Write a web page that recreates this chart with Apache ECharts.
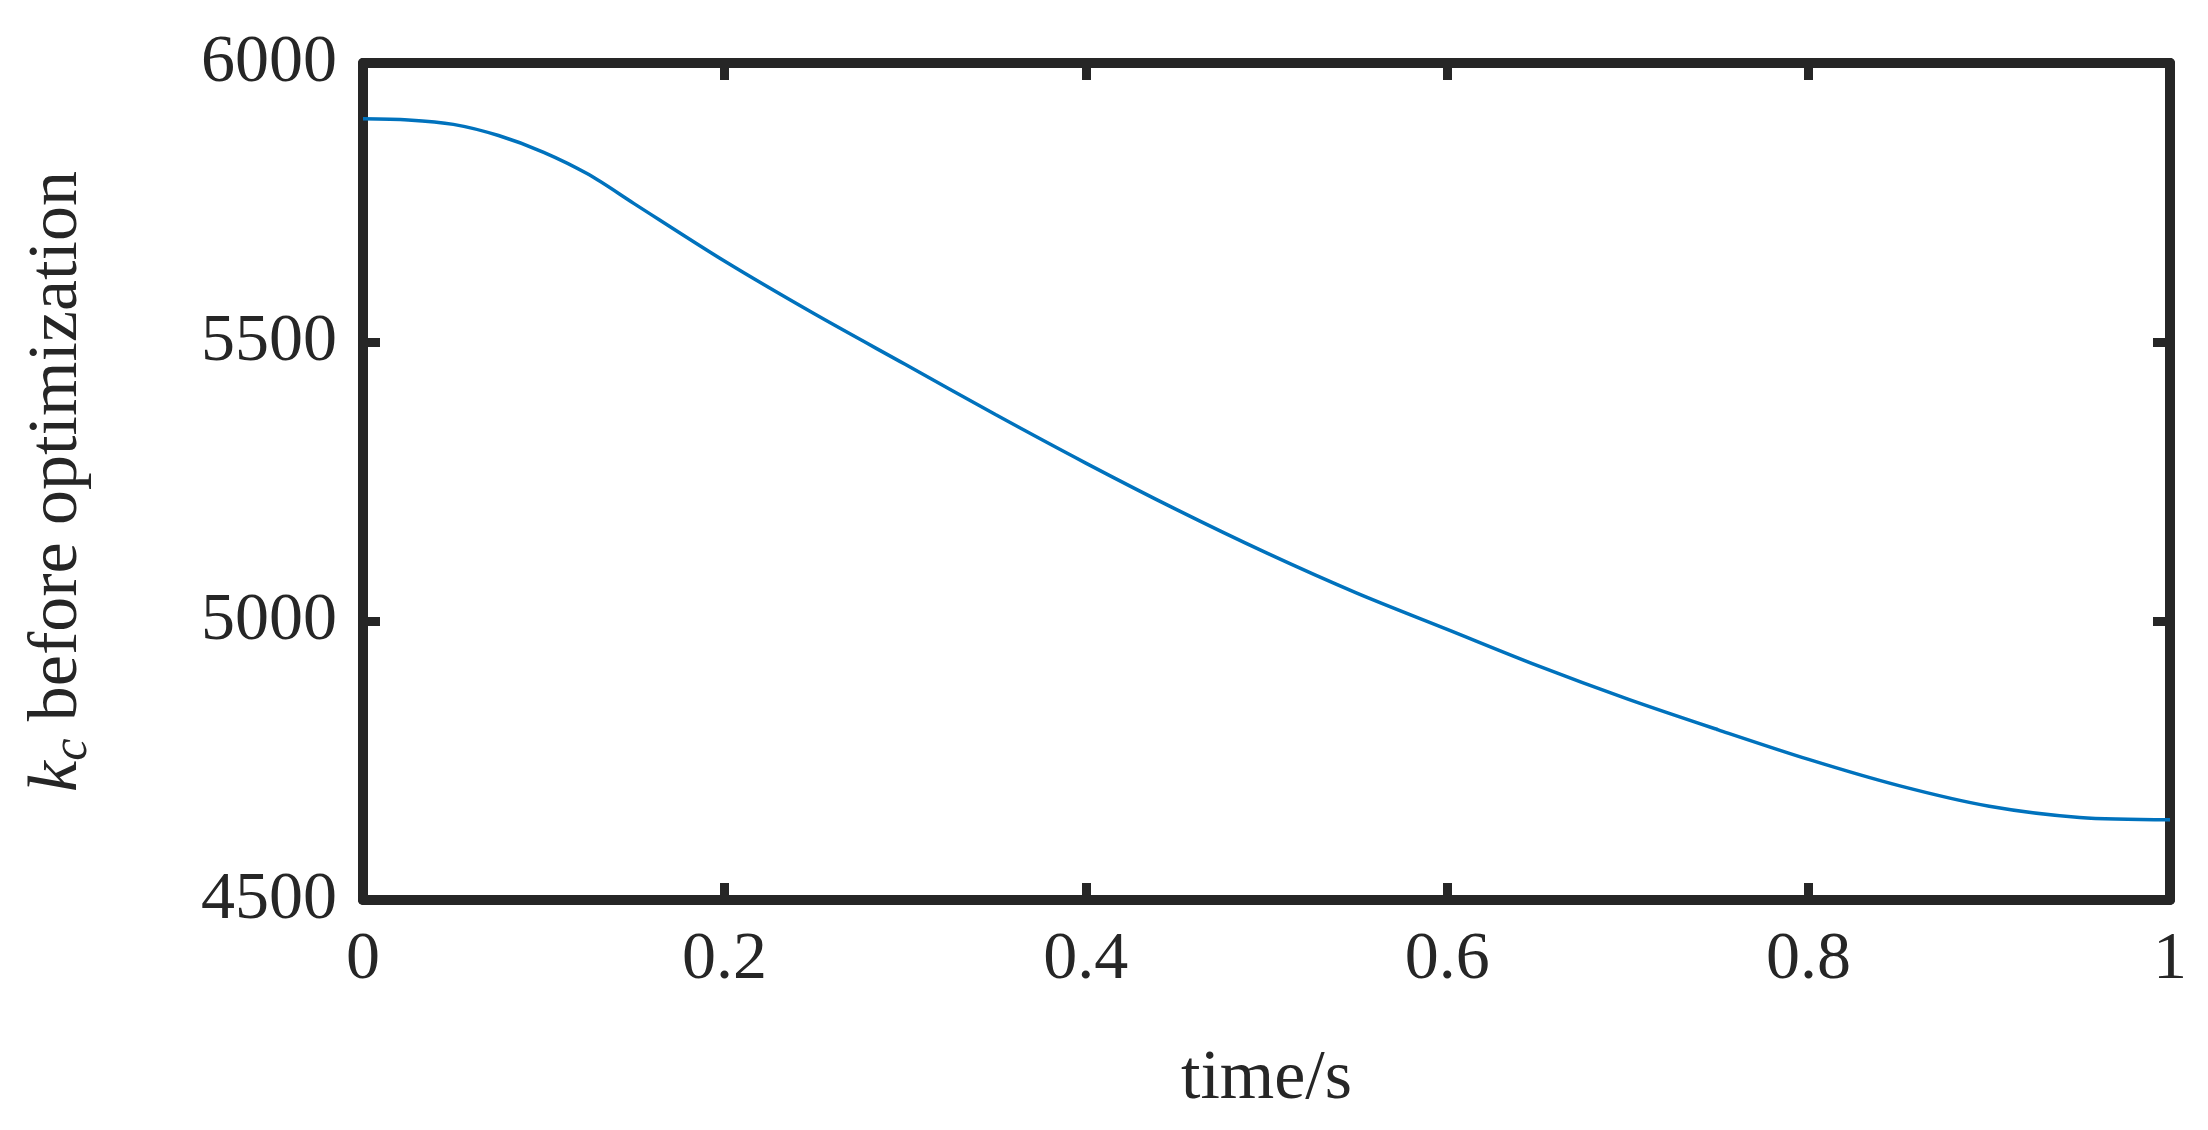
<!DOCTYPE html>
<html>
<head>
<meta charset="utf-8">
<script src="https://cdn.jsdelivr.net/npm/echarts@6/dist/echarts.min.js"></script>
<style>html,body{margin:0;padding:0;background:#fff}#main{width:2208px;height:1130px}</style>
</head>
<body>
<div id="main"></div>
<script>
var timeS = [0, 0.025, 0.05, 0.075, 0.1, 0.125, 0.15, 0.2, 0.25, 0.3, 0.35, 0.4, 0.45, 0.5, 0.55, 0.6, 0.65, 0.7, 0.75, 0.8, 0.85, 0.9, 0.95, 1.0];
var kcValues = [5900, 5898, 5890, 5870, 5840, 5800, 5748, 5645, 5550, 5460, 5370, 5283, 5200, 5122, 5050, 4985, 4920, 4860, 4805, 4752, 4705, 4668, 4648, 4644];

var chart = echarts.init(document.getElementById('main'));
var font = 'Liberation Serif';
var frame = '#262626';
var seriesData = timeS.map(function (t, i) { return [t, kcValues[i]]; });

function xAxis(show, pos) {
    return {
        type: 'value', min: 0, max: 1, interval: 0.2, position: pos,
        axisLine: { show: true, onZero: false, lineStyle: { color: frame, width: 10 } },
        axisTick: { inside: true, length: 17, lineStyle: { color: frame, width: 9 } },
        axisLabel: { show: show, color: '#262626', fontFamily: font, fontSize: 68, margin: 26,
            formatter: function (v) { return String(v); } },
        splitLine: { show: false },
        name: show ? 'time/s' : '', nameLocation: 'middle', nameGap: 145,
        nameTextStyle: { color: '#262626', fontFamily: font, fontSize: 70 }
    };
}
function yAxis(show, pos) {
    return {
        type: 'value', min: 4500, max: 6000, interval: 500, position: pos,
        axisLine: { show: true, onZero: false, lineStyle: { color: frame, width: 10 } },
        axisTick: { inside: true, length: 17, lineStyle: { color: frame, width: 9 } },
        axisLabel: { show: show, color: '#262626', fontFamily: font, fontSize: 68, margin: 26,
            formatter: function (v) { return String(v); } },
        splitLine: { show: false },
        name: show ? '{k|k}{c|c}{t| before optimization}' : '', nameLocation: 'middle', nameGap: 265, nameRotate: 90,
        nameTextStyle: { rich: {
            k: { fontFamily: font, fontStyle: 'italic', fontSize: 70, color: '#262626' },
            c: { fontFamily: font, fontStyle: 'italic', fontSize: 50, color: '#262626', verticalAlign: 'bottom', padding: [30, 0, 0, 0] },
            t: { fontFamily: font, fontSize: 70, color: '#262626' }
        } }
    };
}

chart.setOption({
    animation: false,
    grid: { left: 363, right: 38, top: 63, bottom: 230 },
    xAxis: [xAxis(true, 'bottom'), xAxis(false, 'top')],
    yAxis: [yAxis(true, 'left'), yAxis(false, 'right')],
    series: [{
        type: 'line', data: seriesData, smooth: 0.3, showSymbol: false,
        lineStyle: { color: '#0072BD', width: 3.5 }
    }]
});
</script>
</body>
</html>
